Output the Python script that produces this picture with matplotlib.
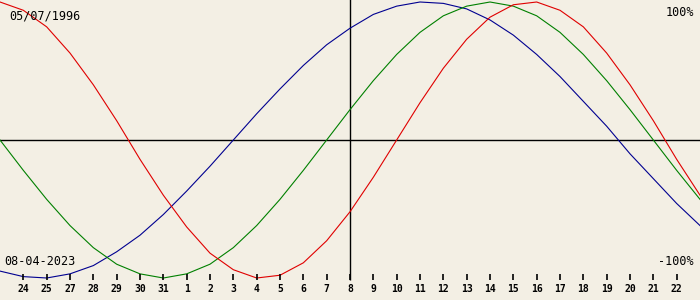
import matplotlib
matplotlib.use('Agg')
import matplotlib.pyplot as plt

# one value per day (-1 .. 1)
days = list(range(31))
physical = [1.00, 0.94, 0.82, 0.63, 0.40, 0.14, -0.14, -0.40, -0.63, -0.82,
            -0.94, -1.00, -0.98, -0.89, -0.73, -0.52, -0.27, 0.00, 0.27, 0.52,
            0.73, 0.89, 0.98, 1.00, 0.94, 0.82, 0.63, 0.40, 0.14, -0.14, -0.40]
emotional = [0.00, -0.22, -0.43, -0.62, -0.78, -0.90, -0.97, -1.00, -0.97, -0.90,
             -0.78, -0.62, -0.43, -0.22, 0.00, 0.22, 0.43, 0.62, 0.78, 0.90,
             0.97, 1.00, 0.97, 0.90, 0.78, 0.62, 0.43, 0.22, 0.00, -0.22, -0.43]
intellectual = [-0.95, -0.99, -1.00, -0.97, -0.91, -0.81, -0.69, -0.54, -0.37, -0.19,
                0.00, 0.19, 0.37, 0.54, 0.69, 0.81, 0.91, 0.97, 1.00, 0.99,
                0.95, 0.87, 0.76, 0.62, 0.46, 0.28, 0.10, -0.10, -0.28, -0.46, -0.62]
tick_days = list(range(1, 30))
tick_labels = ['24', '25', '27', '28', '29', '30', '31', '1', '2', '3', '4', '5', '6',
               '7', '8', '9', '10', '11', '12', '13', '14', '15', '16', '17', '18',
               '19', '20', '21', '22']
birth = '05/07/1996'
today = '08-04-2023'
today_idx = 15

bg = '#f3efe4'
fig = plt.figure(figsize=(7, 3), dpi=100, facecolor=bg)
ax = fig.add_axes([0, 0, 1, 1])
ax.set_facecolor(bg)
ax.set_xlim(0, 30)
ax.set_ylim(-160 / 138, 140 / 138)
ax.axis('off')

ax.axhline(0, color='black', lw=1)
ax.vlines(today_idx, -1.0145, 2, color='black', lw=1)

ax.plot(days, intellectual, color='#000090', lw=0.8)
ax.plot(days, emotional, color='#008000', lw=0.8)
ax.plot(days, physical, color='#e00000', lw=0.8)

# day ticks along the bottom
ax.vlines(tick_days, -0.971, -1.0145, color='black', lw=1.2)
for d, lab in zip(tick_days, tick_labels):
    ax.text(d, -1.08, lab, ha='center', va='center', fontsize=7,
            fontweight='bold', family='DejaVu Sans Mono')

mono = dict(family='DejaVu Sans Mono', fontsize=8.5, color='black')
ax.text(0.013, 0.948, birth, transform=ax.transAxes, ha='left', va='center', **mono)
ax.text(0.006, 0.127, today, transform=ax.transAxes, ha='left', va='center', **mono)
ax.text(0.991, 0.958, '100%', transform=ax.transAxes, ha='right', va='center', **mono)
ax.text(0.991, 0.127, '-100%', transform=ax.transAxes, ha='right', va='center', **mono)

fig.savefig('out.png', dpi=100, facecolor=bg)
